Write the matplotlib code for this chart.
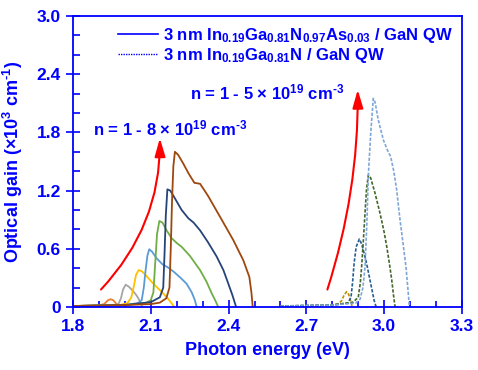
import matplotlib
matplotlib.use("Agg")
import matplotlib.pyplot as plt
from matplotlib.lines import Line2D
from matplotlib.ticker import MultipleLocator

plt.rcParams['font.family'] = ['Liberation Sans', 'DejaVu Sans']
plt.rcParams['font.weight'] = 'bold'
plt.rcParams['mathtext.fontset'] = 'custom'
plt.rcParams['mathtext.rm'] = 'Liberation Sans:bold'
plt.rcParams['mathtext.bf'] = 'Liberation Sans:bold'
plt.rcParams['mathtext.it'] = 'Liberation Sans:bold'
plt.rcParams['mathtext.default'] = 'rm'

BLUE = '#0000FF'

# ---- InGaNAs / GaN QW (solid), n = 1 - 8 x 10^19 cm^-3 ----
orange_x = [1.80, 1.90, 1.92, 1.935, 1.945, 1.955, 1.965, 1.975, 1.988]
orange_y = [0.01, 0.015, 0.03, 0.07, 0.08, 0.07, 0.04, 0.015, 0.0]

gray_x = [1.80, 1.95, 1.975, 1.985, 1.993, 2.003, 2.015, 2.03, 2.045, 2.058, 2.067]
gray_y = [0.01, 0.015, 0.03, 0.09, 0.18, 0.23, 0.21, 0.17, 0.12, 0.06, 0.0]

yellow_x = [1.80, 1.98, 2.01, 2.025, 2.035, 2.043, 2.053, 2.065, 2.08, 2.103, 2.125,
            2.148, 2.168, 2.18, 2.19]
yellow_y = [0.01, 0.02, 0.04, 0.10, 0.22, 0.33, 0.38, 0.37, 0.33, 0.26, 0.20,
            0.14, 0.08, 0.04, 0.0]

ltblue_x = [1.80, 2.0, 2.05, 2.065, 2.073, 2.08, 2.087, 2.094, 2.105, 2.123, 2.145,
            2.165, 2.19, 2.215, 2.238, 2.258, 2.27, 2.277]
ltblue_y = [0.01, 0.02, 0.04, 0.07, 0.20, 0.38, 0.53, 0.595, 0.57, 0.50, 0.44,
            0.41, 0.36, 0.30, 0.24, 0.15, 0.07, 0.0]

green_x = [1.80, 2.0, 2.08, 2.10, 2.11, 2.117, 2.124, 2.133, 2.145, 2.161, 2.18,
           2.20, 2.219, 2.25, 2.29, 2.315, 2.335, 2.35, 2.36]
green_y = [0.01, 0.02, 0.04, 0.07, 0.15, 0.45, 0.75, 0.887, 0.87, 0.79, 0.71,
           0.66, 0.62, 0.53, 0.38, 0.26, 0.14, 0.06, 0.0]

dkblue_x = [1.80, 2.0, 2.10, 2.135, 2.148, 2.153, 2.158, 2.164, 2.175, 2.193, 2.219,
            2.245, 2.265, 2.29, 2.32, 2.354, 2.38, 2.399, 2.415, 2.429]
dkblue_y = [0.01, 0.02, 0.05, 0.10, 0.20, 0.55, 0.95, 1.213, 1.20, 1.12, 1.00,
            0.914, 0.87, 0.79, 0.67, 0.52, 0.38, 0.24, 0.12, 0.0]

brown_x = [1.80, 2.0, 2.10, 2.135, 2.16, 2.172, 2.177, 2.182, 2.187, 2.193, 2.205,
           2.225, 2.245, 2.268, 2.29, 2.305, 2.322, 2.367, 2.418, 2.457, 2.48,
           2.488, 2.493]
brown_y = [0.01, 0.02, 0.03, 0.045, 0.09, 0.20, 0.60, 1.10, 1.45, 1.60, 1.57,
           1.48, 1.38, 1.28, 1.27, 1.21, 1.14, 0.93, 0.69, 0.48, 0.31,
           0.15, 0.0]

# ---- InGaN / GaN QW (dotted), n = 1 - 5 x 10^19 cm^-3 ----
gold_x = [2.60, 2.78, 2.82, 2.835, 2.845, 2.855, 2.863, 2.87, 2.877]
gold_y = [0.01, 0.015, 0.03, 0.06, 0.12, 0.158, 0.13, 0.07, 0.0]

dblue_x = [2.60, 2.80, 2.86, 2.872, 2.878, 2.884, 2.892, 2.904, 2.913, 2.926, 2.936,
           2.945, 2.955, 2.961, 2.969]
dblue_y = [0.01, 0.02, 0.04, 0.10, 0.25, 0.45, 0.62, 0.70, 0.65, 0.52, 0.40,
           0.28, 0.15, 0.07, 0.0]

dgreen_x = [2.60, 2.80, 2.88, 2.90, 2.908, 2.913, 2.92, 2.926, 2.932, 2.939, 2.948,
            2.965, 2.984, 3.0, 3.01, 3.02, 3.029, 3.036, 3.042]
dgreen_y = [0.01, 0.02, 0.05, 0.10, 0.25, 0.415, 0.70, 0.966, 1.22, 1.36, 1.33,
            1.17, 0.966, 0.77, 0.62, 0.45, 0.28, 0.12, 0.0]

lblue_x = [2.60, 2.80, 2.89, 2.907, 2.918, 2.926, 2.933, 2.939, 2.948, 2.958, 2.965,
           2.977, 2.997, 3.012, 3.025, 3.037, 3.048, 3.061, 3.073, 3.084, 3.093, 3.097]
lblue_y = [0.01, 0.02, 0.04, 0.08, 0.20, 0.41, 0.85, 1.36, 1.79, 2.15, 2.11,
           1.93, 1.72, 1.62, 1.55, 1.40, 1.21, 0.90, 0.65, 0.415, 0.14, 0.0]

solid_series = [
    (orange_x, orange_y, '#ED7D31'),
    (gray_x, gray_y, '#A5A5A5'),
    (yellow_x, yellow_y, '#FFC000'),
    (ltblue_x, ltblue_y, '#5B9BD5'),
    (green_x, green_y, '#70AD47'),
    (dkblue_x, dkblue_y, '#264478'),
    (brown_x, brown_y, '#9E480E'),
]
dotted_series = [
    (gold_x, gold_y, '#BF9000'),
    (dblue_x, dblue_y, '#255E91'),
    (dgreen_x, dgreen_y, '#43682B'),
    (lblue_x, lblue_y, '#7EA6D9'),
]

legend_labels = [
    '3 nm In$_{0.19}$Ga$_{0.81}$N$_{0.97}$As$_{0.03}$ / GaN QW',
    '3 nm In$_{0.19}$Ga$_{0.81}$N / GaN QW',
]
text_left = 'n = 1 - 8 × 10$^{19}$ cm$^{\\text{-}3}$'
text_right = 'n = 1 - 5 × 10$^{19}$ cm$^{\\text{-}3}$'
ylabel_text = 'Optical gain (×10$^{3}$ cm$^{\\text{-}1}$)'

# arrows (start, end) in data coordinates
arrow_left = ((1.908, 0.18), (2.135, 1.74))
arrow_right = ((2.781, 0.18), (2.898, 2.24))

fig = plt.figure(figsize=(4.78, 3.70), dpi=100)
ax = fig.add_axes([0.1527, 0.1703, 0.8138, 0.7865])

for xs, ys, c in solid_series:
    ax.plot(xs, ys, color=c, lw=1.3, solid_joinstyle='round')
for xs, ys, c in dotted_series:
    ax.plot(xs, ys, color=c, lw=1.2, linestyle=(0, (2.0, 1.0)))

ax.set_xlim(1.8, 3.3)
ax.set_ylim(0, 3.0)
ax.xaxis.set_major_locator(MultipleLocator(0.3))
ax.xaxis.set_minor_locator(MultipleLocator(0.1))
ax.yaxis.set_major_locator(MultipleLocator(0.6))
ax.yaxis.set_minor_locator(MultipleLocator(0.2))
ax.xaxis.set_major_formatter(matplotlib.ticker.FormatStrFormatter('%.1f'))
ax.yaxis.set_major_formatter(matplotlib.ticker.FuncFormatter(
    lambda v, p: '0' if abs(v) < 1e-9 else '%.1f' % v))

for sp in ax.spines.values():
    sp.set_color(BLUE)
    sp.set_linewidth(1.3)

ax.tick_params(which='major', direction='inout', length=9.5, width=1.2,
               colors=BLUE, labelsize=12.5, pad=4)
ax.tick_params(axis='x', which='minor', direction='in', length=4, width=1.2, colors=BLUE)
ax.tick_params(axis='y', which='minor', direction='in', length=5, width=1.2, colors=BLUE)
for lab in ax.get_xticklabels() + ax.get_yticklabels():
    lab.set_fontweight('bold')

ax.set_xlabel('Photon energy (eV)', fontsize=13, fontweight='bold', color=BLUE, labelpad=6)
ax.set_ylabel(ylabel_text, fontsize=13, fontweight='bold', color=BLUE, labelpad=8)

handles = [Line2D([], [], color=BLUE, lw=1.2),
           Line2D([], [], color=BLUE, lw=1.0, linestyle=(0, (1.0, 0.8)))]
leg = ax.legend(handles, legend_labels, loc='upper left', bbox_to_anchor=(0.1157, 0.965),
                frameon=False, fontsize=12, handlelength=2.4, handletextpad=0.3,
                borderpad=0, borderaxespad=0, labelspacing=0.05)
for t in leg.get_texts():
    t.set_color(BLUE)
    t.set_fontweight('bold')

ax.text(1.877, 1.845, text_left, fontsize=12, fontweight='bold', color=BLUE,
        ha='left', va='center')
ax.text(2.251, 2.216, text_right, fontsize=12, fontweight='bold', color=BLUE,
        ha='left', va='center')

ax.annotate('', xy=arrow_left[1], xytext=arrow_left[0],
            arrowprops=dict(arrowstyle='-|>,head_length=1.1,head_width=0.32',
                            color='#FF0000', lw=1.5, mutation_scale=10,
                            shrinkA=0, shrinkB=0,
                            connectionstyle='arc3,rad=0.2'))
ax.annotate('', xy=arrow_right[1], xytext=arrow_right[0],
            arrowprops=dict(arrowstyle='-|>,head_length=1.1,head_width=0.32',
                            color='#FF0000', lw=1.5, mutation_scale=10,
                            shrinkA=0, shrinkB=0,
                            connectionstyle='arc3,rad=0.08'))

fig.savefig('out.png', dpi=100)
